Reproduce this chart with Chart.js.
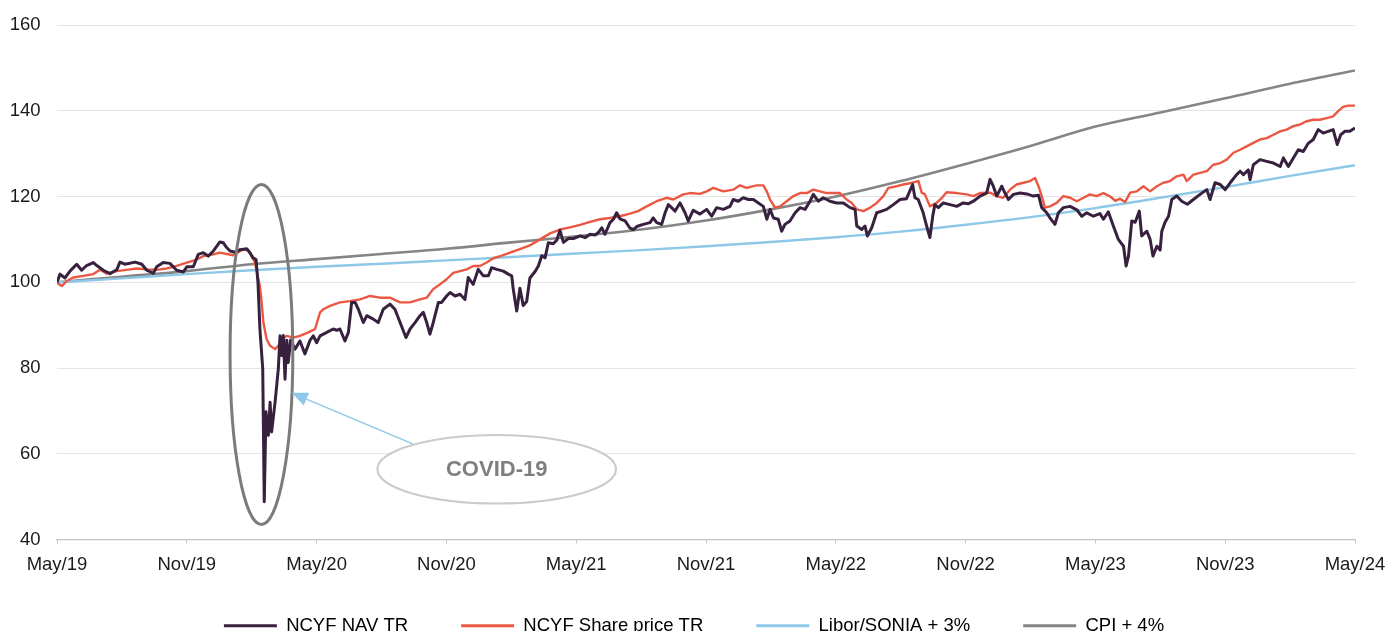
<!DOCTYPE html>
<html>
<head>
<meta charset="utf-8">
<script src="https://cdn.jsdelivr.net/npm/chart.js@4.4.1/dist/chart.umd.min.js"></script>
<style>
  html, body { margin: 0; padding: 0; background: #ffffff; overflow: hidden; }
  #wrap { width: 1388px; height: 631px; overflow: hidden; position: relative; }
  canvas { display: block; }
</style>
</head>
<body>
<div id="wrap"><canvas id="c" width="1388" height="661"></canvas></div>
<script>
// ---- data (x = months since May 2019, y = rebased value) ----
const tickLabels = ['May/19','Nov/19','May/20','Nov/20','May/21','Nov/21','May/22','Nov/22','May/23','Nov/23','May/24'];
const seriesNames = ['NCYF NAV TR','NCYF Share price TR','Libor/SONIA + 3%','CPI + 4%'];

const navTR = [[0,100.0],[0.14,101.9],[0.37,101.0],[0.60,102.6],[0.91,104.2],[1.14,102.8],[1.37,103.9],[1.68,104.6],[1.84,103.9],[2.14,102.8],[2.45,102.0],[2.76,102.9],[2.91,104.7],[3.14,104.2],[3.61,104.7],[3.92,104.2],[4.15,102.8],[4.45,102.1],[4.61,103.6],[4.91,104.6],[5.22,104.4],[5.53,102.8],[5.84,102.4],[6.00,103.6],[6.30,103.6],[6.53,106.5],[6.76,106.9],[6.99,106.1],[7.23,107.3],[7.53,109.4],[7.69,109.2],[7.84,108.1],[8.00,107.3],[8.23,107.0],[8.46,107.6],[8.77,107.8],[8.92,106.9],[9.06,105.7],[9.20,105.3],[9.29,99.9],[9.38,89.1],[9.51,79.8],[9.58,48.8],[9.66,69.8],[9.77,64.3],[9.85,72.0],[9.92,65.1],[10.08,72.0],[10.23,79.8],[10.31,87.5],[10.39,82.9],[10.46,87.6],[10.54,77.4],[10.62,86.5],[10.69,81.3],[10.80,86.5],[11.00,84.4],[11.23,86.3],[11.46,83.3],[11.70,86.5],[11.85,87.5],[12.00,85.9],[12.16,87.5],[12.47,88.3],[12.77,89.1],[12.93,88.8],[13.08,89.1],[13.31,86.3],[13.47,88.3],[13.62,95.3],[13.78,95.3],[13.93,93.7],[14.16,90.6],[14.32,92.2],[14.62,91.4],[14.85,90.6],[15.08,93.7],[15.39,94.9],[15.62,93.7],[15.86,90.6],[16.13,87.1],[16.32,89.1],[16.55,90.6],[16.78,92.2],[16.93,93.0],[17.09,90.6],[17.24,87.9],[17.39,90.6],[17.63,95.3],[17.78,95.3],[18.01,96.8],[18.17,97.6],[18.40,96.8],[18.63,97.2],[18.86,96.0],[19.01,101.1],[19.24,99.5],[19.47,103.0],[19.71,101.5],[19.94,101.5],[20.09,103.4],[20.33,103.0],[20.63,102.6],[20.86,101.9],[21.02,101.5],[21.09,98.4],[21.25,93.3],[21.40,98.6],[21.55,94.6],[21.71,95.5],[21.86,101.0],[22.10,102.5],[22.25,103.8],[22.41,106.2],[22.56,105.7],[22.71,109.2],[22.94,109.0],[23.10,109.8],[23.25,112.1],[23.41,109.3],[23.64,110.2],[23.87,110.2],[24.18,110.8],[24.41,110.4],[24.64,111.2],[24.87,111.0],[25.02,111.6],[25.18,112.7],[25.33,111.2],[25.56,113.9],[25.72,114.7],[25.87,116.2],[26.02,114.8],[26.26,114.3],[26.49,112.6],[26.64,112.3],[26.80,113.0],[27.10,113.5],[27.41,113.9],[27.56,115.0],[27.72,113.9],[27.95,113.5],[28.11,116.2],[28.26,118.1],[28.41,117.4],[28.57,116.6],[28.80,118.5],[29.03,116.2],[29.18,114.3],[29.41,116.8],[29.72,115.9],[30.03,117.0],[30.26,115.4],[30.49,117.4],[30.80,117.0],[31.11,117.7],[31.26,119.3],[31.49,118.9],[31.72,119.7],[31.96,119.3],[32.19,119.3],[32.42,118.5],[32.65,117.7],[32.81,114.7],[32.96,117.0],[33.12,115.0],[33.34,114.7],[33.50,111.9],[33.65,113.5],[33.88,114.3],[34.12,116.2],[34.35,117.4],[34.58,117.0],[34.81,118.9],[34.96,120.5],[35.19,118.9],[35.42,119.7],[35.73,118.9],[36.04,118.5],[36.35,118.5],[36.66,117.4],[36.89,117.0],[36.97,113.1],[37.20,112.3],[37.35,113.1],[37.46,110.8],[37.66,112.7],[37.89,116.2],[38.12,116.6],[38.35,117.0],[38.66,118.1],[38.97,119.3],[39.27,119.5],[39.55,122.8],[39.66,119.7],[39.81,119.3],[40.04,116.2],[40.20,113.1],[40.35,110.4],[40.48,115.4],[40.58,118.1],[40.74,117.4],[40.97,118.5],[41.28,118.1],[41.59,117.7],[41.89,118.5],[42.12,118.3],[42.36,118.9],[42.67,120.1],[42.97,120.8],[43.13,124.0],[43.28,122.4],[43.44,120.1],[43.67,122.4],[43.82,120.8],[43.98,119.3],[44.21,120.5],[44.52,120.8],[44.83,120.6],[45.13,120.1],[45.37,120.3],[45.52,117.4],[45.75,116.2],[45.90,115.0],[46.13,113.5],[46.29,116.2],[46.52,117.4],[46.83,117.7],[47.14,116.9],[47.37,115.4],[47.60,116.2],[47.91,115.4],[48.21,116.0],[48.37,114.7],[48.60,116.4],[48.83,113.1],[49.06,110.0],[49.30,108.4],[49.42,103.8],[49.53,106.1],[49.68,114.3],[49.84,114.0],[50.03,116.6],[50.14,110.8],[50.38,111.9],[50.53,110.0],[50.66,106.1],[50.84,108.4],[50.99,107.5],[51.07,111.9],[51.22,114.0],[51.38,115.4],[51.53,119.3],[51.76,120.1],[51.99,118.9],[52.25,118.2],[52.53,119.3],[52.84,120.5],[53.15,121.6],[53.30,119.3],[53.53,123.2],[53.77,122.8],[54.00,121.6],[54.23,123.2],[54.53,125.1],[54.69,125.9],[54.84,125.1],[55.07,126.2],[55.15,123.9],[55.30,127.4],[55.61,128.6],[55.92,128.2],[56.23,127.8],[56.54,127.0],[56.69,129.0],[56.92,127.0],[57.15,129.0],[57.38,130.9],[57.61,130.5],[57.84,132.4],[58.07,133.3],[58.30,135.6],[58.53,134.8],[58.76,135.2],[58.99,135.6],[59.18,132.1],[59.34,134.4],[59.53,135.2],[59.76,135.2],[60.00,136.0]];

const sharePriceTR = [[0,99.9],[0.22,99.1],[0.45,100.3],[0.75,101.1],[1.22,101.5],[1.68,101.9],[1.99,102.9],[2.30,102.0],[2.76,102.6],[3.22,102.9],[3.68,103.2],[4.15,103.0],[4.61,102.9],[5.07,103.2],[5.53,103.8],[6.00,104.6],[6.46,105.3],[6.76,106.1],[7.23,106.5],[7.53,106.9],[8.14,106.3],[8.61,107.7],[8.84,107.4],[9.00,106.0],[9.15,104.6],[9.31,100.7],[9.38,99.1],[9.46,95.3],[9.54,90.6],[9.69,86.7],[9.85,85.2],[10.08,84.4],[10.23,85.2],[10.39,86.7],[10.62,87.5],[10.92,87.1],[11.23,87.5],[11.62,88.3],[11.93,89.1],[12.16,93.0],[12.31,93.7],[12.62,94.5],[13.08,95.3],[13.54,95.6],[14.01,96.0],[14.47,96.8],[14.93,96.4],[15.39,96.4],[15.86,95.3],[16.32,95.3],[16.78,96.0],[17.09,96.4],[17.39,98.4],[17.70,99.5],[18.01,100.7],[18.32,102.2],[18.63,102.6],[18.94,103.0],[19.24,103.8],[19.55,103.8],[19.86,104.6],[20.17,105.6],[20.56,106.2],[20.94,106.9],[21.40,107.7],[21.86,108.6],[22.33,110.0],[22.79,111.4],[23.25,112.3],[23.71,112.8],[24.18,113.4],[24.64,114.1],[25.10,114.7],[25.56,115.0],[26.02,115.4],[26.49,116.0],[26.86,116.6],[27.26,117.7],[27.72,118.9],[28.18,119.7],[28.49,119.3],[28.95,120.5],[29.26,120.8],[29.72,120.6],[30.03,121.2],[30.34,122.0],[30.80,121.2],[31.26,121.6],[31.57,122.6],[31.88,122.0],[32.34,122.6],[32.65,122.6],[32.81,121.2],[32.96,119.3],[33.19,117.4],[33.42,117.7],[33.73,118.9],[34.04,120.1],[34.35,120.8],[34.66,120.8],[34.96,121.6],[35.27,121.2],[35.58,120.8],[36.19,120.8],[36.50,119.3],[36.74,118.5],[36.97,117.0],[37.28,116.6],[37.59,117.4],[37.89,118.5],[38.20,120.1],[38.43,122.0],[38.82,122.4],[39.12,122.8],[39.43,123.1],[39.82,123.6],[39.97,120.9],[40.12,120.5],[40.35,117.7],[40.66,118.5],[40.89,119.6],[41.12,121.0],[41.59,120.8],[42.05,120.5],[42.36,120.1],[42.67,120.8],[43.13,120.9],[43.44,120.1],[43.74,119.7],[44.05,121.6],[44.36,122.8],[44.67,123.2],[44.98,123.6],[45.21,124.3],[45.37,122.4],[45.52,120.1],[45.67,117.4],[45.90,117.7],[46.21,118.5],[46.52,120.1],[46.83,119.7],[47.14,118.9],[47.45,119.7],[47.75,120.5],[48.06,120.1],[48.37,120.8],[48.68,120.0],[48.92,119.0],[49.14,119.5],[49.37,118.7],[49.61,120.9],[49.91,121.2],[50.22,122.4],[50.53,121.2],[50.84,122.4],[51.14,123.2],[51.45,123.6],[51.76,124.7],[52.07,125.1],[52.22,123.6],[52.53,125.1],[52.84,125.5],[53.15,125.9],[53.45,127.4],[53.77,127.8],[54.07,128.6],[54.38,130.2],[54.69,130.9],[54.99,131.7],[55.30,132.5],[55.61,133.3],[55.92,133.6],[56.23,134.4],[56.54,135.2],[56.84,135.6],[57.15,136.4],[57.46,136.8],[57.73,137.5],[58.07,137.9],[58.38,137.9],[58.69,138.3],[58.99,138.7],[59.22,139.9],[59.45,140.9],[59.68,141.2],[60.00,141.2]];

const liborSonia3 = [[0,100],[3,100.9],[6,101.9],[9,102.8],[12,103.6],[15,104.3],[18,105.1],[21,105.9],[24,106.7],[27,107.5],[30,108.4],[33,109.4],[36,110.5],[39,111.8],[42,113.4],[45,115.2],[48,117.3],[51,119.7],[54,122.2],[57,124.8],[60,127.3]];

const cpi4 = [[0,100],[3,101.3],[6,102.6],[9,104.2],[12,105.4],[15,106.6],[18,107.8],[21,109.3],[24,110.7],[27,112.3],[30,114.4],[33,117.0],[36,120.0],[39,123.6],[42,127.6],[45,131.8],[48,136.3],[51,139.6],[54,142.9],[57,146.3],[60,149.4]];

// annotation anchors, in data units
const covidRing = {xMin: 8.0, xMax: 10.9, yMin: 43.5, yMax: 122.8};
const labelRing = {xMin: 14.81, xMax: 25.84, yMin: 48.4, yMax: 64.4};
const arrowFrom = [16.44, 62.3];
const arrowTo = [10.85, 74.2];
const noteText = 'COVID-19';

const toXY = arr => arr.map(p => ({x: p[0], y: p[1]}));

Chart.defaults.font.family = "'Liberation Sans', Arial, Helvetica, sans-serif";

const LEGEND_GAP = 24; // px between plot bottom and legend box top

const legendPlacer = {
  id: 'legendPlacer',
  afterLayout(chart) {
    const lg = chart.legend;
    if (!lg) return;
    const h = lg.height;
    lg.left = 0;
    lg.right = chart.width;
    lg.width = chart.width;
    lg.top = chart.chartArea.bottom + LEGEND_GAP;
    lg.bottom = lg.top + h;
  }
};

const covidPlugin = {
  id: 'covidNote',
  afterDatasetsDraw(chart) {
    const {ctx, scales: {x, y}} = chart;
    ctx.save();
    let l = x.getPixelForValue(covidRing.xMin), r = x.getPixelForValue(covidRing.xMax);
    let t = y.getPixelForValue(covidRing.yMax), b = y.getPixelForValue(covidRing.yMin);
    ctx.beginPath();
    ctx.ellipse((l + r) / 2, (t + b) / 2, (r - l) / 2, (b - t) / 2, 0, 0, Math.PI * 2);
    ctx.strokeStyle = '#7b7b7b';
    ctx.lineWidth = 3;
    ctx.stroke();

    const x1 = x.getPixelForValue(arrowFrom[0]), y1 = y.getPixelForValue(arrowFrom[1]);
    const x2 = x.getPixelForValue(arrowTo[0]), y2 = y.getPixelForValue(arrowTo[1]);
    const ang = Math.atan2(y2 - y1, x2 - x1);
    const hl = 16, hw = 7;
    const bx = x2 - hl * Math.cos(ang), by = y2 - hl * Math.sin(ang);
    ctx.strokeStyle = '#8ec8e8';
    ctx.fillStyle = '#8ec8e8';
    ctx.lineWidth = 1.5;
    ctx.beginPath();
    ctx.moveTo(x1, y1);
    ctx.lineTo(bx, by);
    ctx.stroke();
    ctx.beginPath();
    ctx.moveTo(x2, y2);
    ctx.lineTo(bx + hw * Math.sin(ang), by - hw * Math.cos(ang));
    ctx.lineTo(bx - hw * Math.sin(ang), by + hw * Math.cos(ang));
    ctx.closePath();
    ctx.fill();

    l = x.getPixelForValue(labelRing.xMin); r = x.getPixelForValue(labelRing.xMax);
    t = y.getPixelForValue(labelRing.yMax); b = y.getPixelForValue(labelRing.yMin);
    ctx.beginPath();
    ctx.ellipse((l + r) / 2, (t + b) / 2, (r - l) / 2, (b - t) / 2, 0, 0, Math.PI * 2);
    ctx.fillStyle = '#ffffff';
    ctx.fill();
    ctx.strokeStyle = '#cbcbcb';
    ctx.lineWidth = 2;
    ctx.stroke();
    ctx.fillStyle = '#7f7f7f';
    ctx.font = "bold 22px 'Liberation Sans', Arial, sans-serif";
    ctx.textAlign = 'center';
    ctx.textBaseline = 'middle';
    ctx.fillText(noteText, (l + r) / 2, (t + b) / 2 + 1);
    ctx.restore();
  }
};

const colors = ['#37213f', '#ea5843', '#8ec8e8', '#858585'];
const widths = [3, 2.4, 2.4, 2.6];
const seriesData = [navTR, sharePriceTR, liborSonia3, cpi4];

new Chart(document.getElementById('c'), {
  type: 'line',
  data: {
    datasets: seriesData.map((d, i) => ({
      label: seriesNames[i],
      data: toXY(d),
      borderColor: colors[i],
      backgroundColor: colors[i],
      borderWidth: widths[i],
      pointRadius: 0,
      tension: 0,
      borderJoinStyle: 'round',
      cubicInterpolationMode: i >= 2 ? 'monotone' : 'default',
      fill: false
    }))
  },
  options: {
    responsive: false,
    animation: false,
    events: [],
    layout: { padding: { top: 25, right: 33, left: 0, bottom: 0 } },
    plugins: {
      tooltip: { enabled: false },
      legend: {
        position: 'bottom',
        align: 'center',
        labels: {
          boxWidth: 53,
          boxHeight: 3,
          padding: 53,
          color: '#1a1a1a',
          font: { size: 18.5 },
          generateLabels(chart) {
            return chart.data.datasets.map((ds, i) => ({
              text: ds.label,
              fillStyle: ds.borderColor,
              strokeStyle: ds.borderColor,
              lineWidth: 0,
              hidden: false,
              datasetIndex: i
            }));
          }
        }
      }
    },
    scales: {
      x: {
        type: 'linear',
        min: 0,
        max: 60,
        afterFit(scale) { scale.height = 40; scale.paddingLeft = 0; scale.paddingRight = 0; },
        ticks: {
          stepSize: 6,
          autoSkip: false,
          maxRotation: 0,
          padding: 10,
          color: '#1a1a1a',
          font: { size: 18.5 },
          callback: (v) => tickLabels[Math.round(v / 6)]
        },
        grid: { drawOnChartArea: false, drawTicks: true, tickLength: 4, color: '#c4c4c4' },
        border: { display: true, color: '#c4c4c4', width: 1.2 }
      },
      y: {
        min: 40,
        max: 160,
        afterFit(scale) { scale.width = 57; scale.paddingTop = 0; scale.paddingBottom = 0; },
        ticks: { stepSize: 20, padding: 16.5, color: '#1a1a1a', font: { size: 18.5 } },
        grid: { color: '#e4e4e4', lineWidth: 1, drawTicks: false },
        border: { display: false }
      }
    }
  },
  plugins: [legendPlacer, covidPlugin]
});
</script>
</body>
</html>
